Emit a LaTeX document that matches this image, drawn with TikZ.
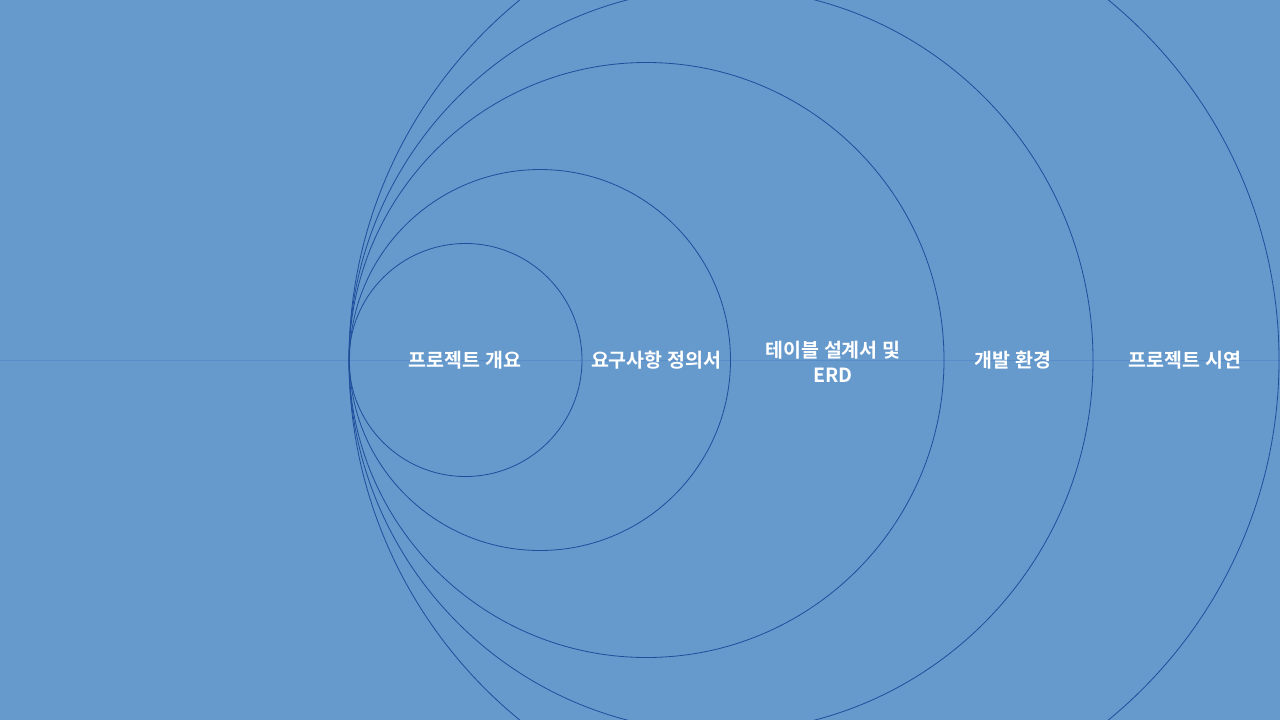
\documentclass[tikz,border=0pt]{standalone}
\usepackage{fontspec}
\newfontfamily\kr{Noto Sans CJK KR Bold}
\definecolor{bg}{HTML}{6699CC}
\definecolor{ring}{HTML}{1F4E9C}
\definecolor{axis}{HTML}{5A8CC8}
\begin{document}
\begin{tikzpicture}[x=1pt,y=-1pt,
  ring/.style={draw=ring,line width=0.8pt},
  lbl/.style={text=white,font=\kr\fontsize{19.5}{25}\selectfont,align=center,inner sep=0pt}]
\fill[bg] (0,0) rectangle (1280,720);
\useasboundingbox (0,0) rectangle (1280,720);
\coordinate (L) at (0,360);
\coordinate (R) at (1280,360);
\draw[axis,line width=0.8pt] (L) -- (R);
\begin{scope}
\clip (0,0) rectangle (1280,720);
\draw[ring] (465.5,360) circle (116.5);
\draw[ring] (540,360) circle (190.5);
\draw[ring] (646.5,360) circle (297.5);
\draw[ring] (721,360) circle (372);
\draw[ring] (814,360) circle (465);
\end{scope}
\node[lbl] (a) at (465,360) {프로젝트 개요};
\node[lbl] (b) at (656,360) {요구사항 정의서};
\node[lbl] (c) at (833,362) {테이블 설계서 및\\ERD};
\node[lbl] (d) at (1013,360) {개발 환경};
\node[lbl] (e) at (1185,360) {프로젝트 시연};
\end{tikzpicture}
\end{document}
